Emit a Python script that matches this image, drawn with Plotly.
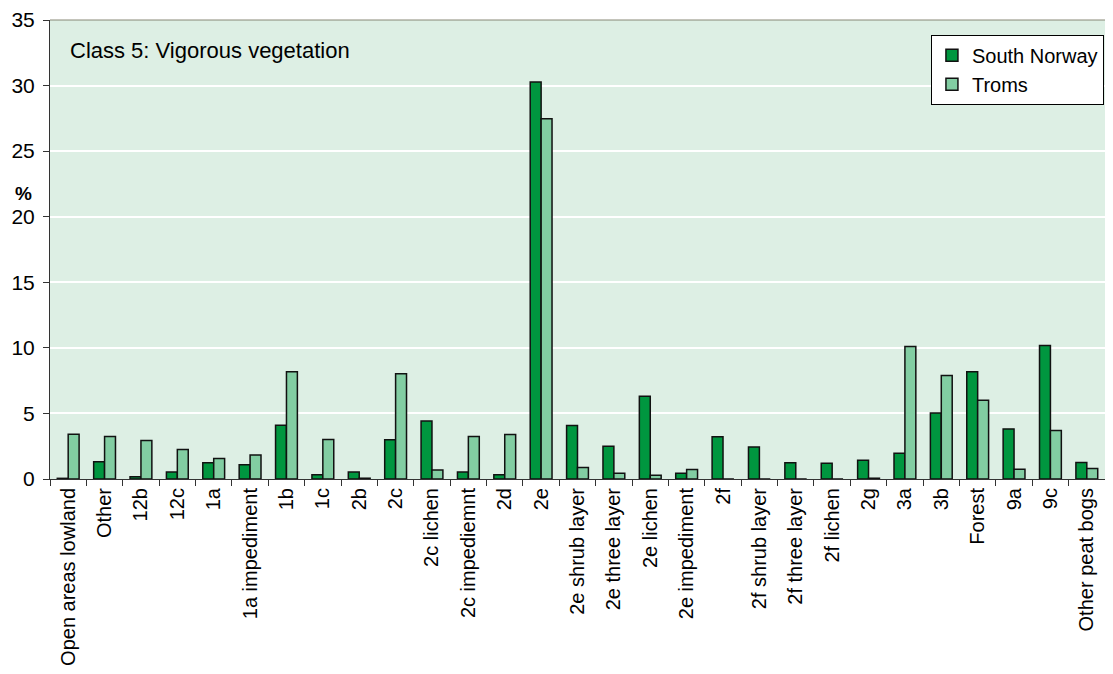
import plotly.graph_objects as go

categories = ["Open areas lowland", "Other", "12b", "12c", "1a", "1a impediment", "1b", "1c", "2b", "2c",
              "2c lichen", "2c impediemnt", "2d", "2e", "2e shrub layer", "2e three layer", "2e lichen",
              "2e impediment", "2f", "2f shrub layer", "2f three layer", "2f lichen", "2g", "3a", "3b",
              "Forest", "9a", "9c", "Other peat bogs"]
south_norway = [0.05, 1.31, 0.18, 0.53, 1.23, 1.08, 4.1, 0.33, 0.53, 2.99,
                4.42, 0.53, 0.33, 30.27, 4.07, 2.49, 6.31, 0.43, 3.22, 2.44,
                1.23, 1.21, 1.43, 1.96, 5.03, 8.17, 3.82, 10.18, 1.26]
troms = [3.42, 3.24, 2.94, 2.24, 1.56, 1.83, 8.17, 3.02, 0.06, 8.02,
         0.68, 3.24, 3.39, 27.47, 0.88, 0.43, 0.28, 0.73, 0.0, 0.0,
         0.0, 0.0, 0.06, 10.1, 7.89, 6.01, 0.75, 3.7, 0.8]
y_ticks = [0, 5, 10, 15, 20, 25, 30, 35]

FONT = "Arial, Liberation Sans, sans-serif"

fig = go.Figure()
fig.add_trace(go.Bar(x=categories, y=south_norway, name="South Norway",
                     marker=dict(color="#00963F", line=dict(color="#111111", width=1.5))))
fig.add_trace(go.Bar(x=categories, y=troms, name="Troms",
                     marker=dict(color="#82CDA2", line=dict(color="#111111", width=1.5))))

# page body has an 8px margin: keep the figure inside the window so nothing overflows
fig.update_layout(
    width=1097, height=658,
    margin=dict(l=42, r=0, t=11, b=183),
    paper_bgcolor="white",
    plot_bgcolor="#DDEFE4",
    barmode="group",
    bargap=0.4,
    bargroupgap=0,
    font=dict(family=FONT, size=20, color="black"),
    showlegend=True,
    legend=dict(x=0.999, y=0.968, xanchor="right", yanchor="top",
                bgcolor="white", bordercolor="black", borderwidth=1,
                font=dict(size=20, family=FONT), tracegroupgap=0,
                itemwidth=30),
    xaxis=dict(tickangle=-90, ticks="outside", tickson="boundaries", ticklen=6,
               tickcolor="#333333", showline=True, linecolor="#333333", linewidth=1,
               tickfont=dict(size=20, family=FONT), showgrid=False),
    yaxis=dict(range=[0, 35], tickvals=y_ticks, ticks="outside", ticklen=6,
               tickcolor="#333333", showline=True, linecolor="#333333", linewidth=1,
               showgrid=True, gridcolor="white", gridwidth=1.5, zeroline=False,
               ticklabelstandoff=4, ticklabeloverflow="allow",
               tickfont=dict(size=21, family=FONT)),
    annotations=[
        dict(text="Class 5: Vigorous vegetation", xref="paper", yref="paper",
             x=0.017, y=0.933, xanchor="left", yanchor="middle", showarrow=False,
             font=dict(size=22, family=FONT)),
        dict(text="<b>%</b>", xref="paper", yref="paper", x=-0.025, y=0.622,
             xanchor="center", yanchor="middle", showarrow=False,
             font=dict(size=19, family=FONT)),
    ],
    shapes=[dict(type="line", xref="paper", yref="paper", x0=0, x1=1, y0=1, y1=1,
                 line=dict(color="#888877", width=1))],
)

fig.write_html("out.html")
